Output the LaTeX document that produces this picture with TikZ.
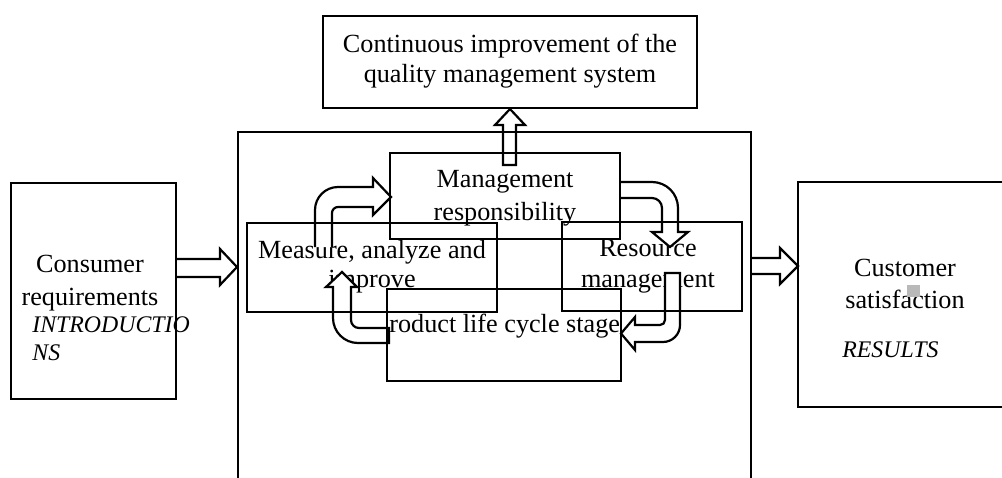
\documentclass[tikz,border=0pt]{standalone}
\usepackage{fontspec}
\setmainfont{Liberation Serif}

\begin{document}
\begin{tikzpicture}[x=0.5pt, y=-0.5pt, line join=miter,
  box/.style={line width=1.3pt},
  harrow/.style={line width=1.1pt, fill=white},
  lbl/.style={anchor=base, inner sep=0pt, font=\fontsize{13.1}{15}\selectfont},
  tag/.style={anchor=base west, inner sep=0pt, font=\fontsize{11.9}{14}\selectfont\itshape}]
\useasboundingbox (0,0) rectangle (1002,477);

% texts
\node[lbl] (goalA) at (510,52) {Continuous improvement of the};
\node[lbl] (goalB) at (510,82) {quality management system};
\node[lbl] (mgmtA) at (505,187) {Management};
\node[lbl] (mgmtB) at (505,220) {responsibility};
\node[lbl] (measA) at (372,258) {Measure, analyze and};
\node[lbl] (measB) at (372,287) {improve};
\node[lbl] (resA) at (648,256) {Resource};
\node[lbl] (resB) at (648,287) {management};
\node[lbl, anchor=base west] (prod) at (389,332) {roduct life cycle stage};
\node[lbl] (consA) at (90,272) {Consumer};
\node[lbl] (consB) at (90,305) {requirements};
\node[tag] (inA) at (32,332) {INTRODUCTIO};
\node[tag] (inB) at (32,360) {NS};
\node[lbl] (custA) at (905,276) {Customer};
\node[lbl] (custB) at (905,308) {satisfaction};
\node[tag] (outA) at (842,357) {RESULTS};
\fill[gray!55] (907,285) rectangle (920,297);

% hollow arrows
\draw[harrow] (176,259) -- (220,259) -- (220,249) -- (237,267) -- (220,285) -- (220,277) -- (176,277);
\draw[harrow] (751,258) -- (780,258) -- (780,248) -- (798,266) -- (780,284) -- (780,274) -- (751,274);
\draw[harrow] (503,165) -- (503,125) -- (495,125) -- (510,109) -- (525,125) -- (516,125) -- (516,165) -- cycle;
\draw[harrow] (315,247) -- (315,210) .. controls (315,197.3) and (325.3,187) .. (338,187) -- (373,187) -- (373,178) -- (391,197) -- (373,215) -- (373,207) -- (338,207) .. controls (334.7,207) and (332,209.7) .. (332,213) -- (332,247);
\draw[harrow] (620,182) -- (652,182) .. controls (666.4,182) and (678,193.6) .. (678,208) -- (678,232) -- (688,232) -- (670,247) -- (652,232) -- (662,232) -- (662,208) .. controls (662,202.5) and (657.5,198) .. (652,198) -- (620,198);
\draw[harrow] (665,273) -- (680,273) -- (680,325) .. controls (680,334.4) and (672.4,342) .. (663,342) -- (635,342) -- (635,350) -- (621,333.5) -- (635,317) -- (635,325) -- (660,325) .. controls (662.8,325) and (665,322.8) .. (665,320) -- cycle;
\draw[harrow] (389,343) -- (358,343) .. controls (344.2,343) and (333,331.8) .. (333,318) -- (333,287) -- (326,287) -- (342,272) -- (357,287) -- (351,287) -- (351,320) .. controls (351,324.4) and (354.6,328) .. (359,328) -- (389,328) -- cycle;

% boxes
\draw[box] (323,16) rectangle (697,108);
\draw[box] (238,480) -- (238,132) -- (751,132) -- (751,480);
\draw[box] (11,183) rectangle (176,399);
\draw[box] (1005,182) -- (798,182) -- (798,407) -- (1005,407);
\draw[box] (390,153) rectangle (620,239);
\draw[box] (247,223) rectangle (497,312);
\draw[box] (562,222) rectangle (742,311);
\draw[box] (387,289) rectangle (621,381);
\end{tikzpicture}
\end{document}
